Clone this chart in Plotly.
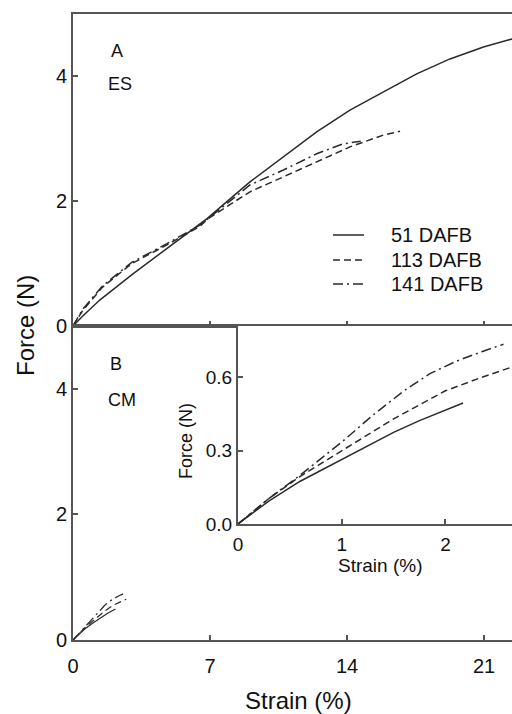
import plotly.graph_objects as go

# ---------------- data ----------------
# Panel A (ES): strain (%) vs force (N)
es51_strain = [0, 0.5, 1.38, 3.08, 4.79, 6.49, 6.85, 9.04, 10.75, 12.45, 14.15, 15.86, 17.56, 19.26, 20.97, 22.33, 22.6]
es51_force = [0, 0.16, 0.42, 0.84, 1.24, 1.64, 1.72, 2.31, 2.71, 3.11, 3.46, 3.75, 4.04, 4.28, 4.47, 4.59, 4.61]

es113_strain = [0, 0.5, 1.5, 3.0, 4.8, 6.5, 6.9, 9.04, 10.75, 12.45, 14.15, 15.86, 16.71]
es113_force = [0, 0.25, 0.62, 1.0, 1.30, 1.60, 1.72, 2.15, 2.39, 2.63, 2.87, 3.06, 3.12]

es141_strain = [0, 0.5, 1.5, 3.0, 4.8, 6.5, 6.9, 9.04, 10.75, 12.45, 13.81, 14.7]
es141_force = [0, 0.27, 0.64, 1.02, 1.32, 1.62, 1.72, 2.26, 2.50, 2.76, 2.92, 2.96]

# Panel B (CM) and inset
cm51_strain = [0, 0.3, 0.6, 1.0, 1.25, 1.5, 1.75, 2.0, 2.17]
cm51_force = [0, 0.095, 0.175, 0.265, 0.322, 0.375, 0.423, 0.465, 0.495]

cm113_strain = [0, 0.3, 0.6, 1.0, 1.5, 2.0, 2.35, 2.64, 2.72]
cm113_force = [0, 0.105, 0.195, 0.298, 0.43, 0.545, 0.60, 0.642, 0.65]

cm141_strain = [0, 0.3, 0.6, 1.0, 1.3, 1.6, 1.85, 2.1, 2.35, 2.56]
cm141_force = [0, 0.105, 0.20, 0.335, 0.445, 0.545, 0.615, 0.665, 0.705, 0.735]

series_names = ["51 DAFB", "113 DAFB", "141 DAFB"]

main_xticks = [0, 7, 14, 21]
main_yticks = [0, 2, 4]
inset_xticks = [0, 1, 2]
inset_yticks = [0.0, 0.3, 0.6]

# ---------------- styling ----------------
FONT = "Liberation Sans, Arial, sans-serif"
LINE_C = "#2a2a2a"
AX_C = "#555555"
TXT_C = "#111111"
dashes = ["solid", "7px,4px", "10px,4px,2px,4px"]
NBSP = "\u00a0"

fig = go.Figure()

es = [(es51_strain, es51_force), (es113_strain, es113_force), (es141_strain, es141_force)]
cm = [(cm51_strain, cm51_force), (cm113_strain, cm113_force), (cm141_strain, cm141_force)]

for i, (x, y) in enumerate(es):
    fig.add_trace(go.Scatter(x=x, y=y, mode="lines", xaxis="x", yaxis="y",
                             name=series_names[i], showlegend=False,
                             line=dict(color=LINE_C, width=1.5, dash=dashes[i])))
for i, (x, y) in enumerate(cm):
    fig.add_trace(go.Scatter(x=x, y=y, mode="lines", xaxis="x2", yaxis="y2",
                             name=series_names[i], showlegend=False,
                             line=dict(color=LINE_C, width=1.2, dash=dashes[i])))
for i, (x, y) in enumerate(cm):
    fig.add_trace(go.Scatter(x=x, y=y, mode="lines", xaxis="x3", yaxis="y3",
                             name=series_names[i], showlegend=False,
                             line=dict(color=LINE_C, width=1.5, dash=dashes[i])))

split = 314 / 626

def axis(size=20, **kw):
    d = dict(showline=True, linecolor=AX_C, linewidth=2, ticks="inside",
             ticklen=5, tickwidth=1.5, tickcolor=AX_C, showgrid=False,
             zeroline=False, automargin=False,
             tickfont=dict(family=FONT, size=size, color=TXT_C))
    d.update(kw)
    return d

fig.update_layout(
    width=512, height=714,
    margin=dict(l=73, r=0, t=14, b=74),
    paper_bgcolor="white", plot_bgcolor="white",
    font=dict(family=FONT, color=TXT_C),
    showlegend=False,
    xaxis=axis(domain=[0, 1], range=[0, 22.43], anchor="y", tickvals=main_xticks[1:],
               showticklabels=False, mirror=True),
    yaxis=axis(domain=[split, 1], range=[0, 5], anchor="x", tickvals=main_yticks,
               ticksuffix=NBSP),
    xaxis2=axis(domain=[0, 1], range=[0, 22.43], anchor="y2", tickvals=main_xticks,
                mirror=True, ticklabelstandoff=7),
    yaxis2=axis(domain=[0, split], range=[0, 5], anchor="x2", tickvals=main_yticks,
                ticksuffix=NBSP),
    xaxis3=axis(size=19, domain=[(238 - 73) / 439, 1], range=[0, 2.642], anchor="y3",
                tickvals=inset_xticks, ticklabelstandoff=2),
    yaxis3=axis(size=19, domain=[(640 - 524) / 626, split], range=[0, 0.81], anchor="x3",
                tickvals=inset_yticks, tickformat=".1f", ticksuffix=NBSP),
)

def ann(text, x, y, size, angle=0, xanchor="center"):
    fig.add_annotation(text=text, x=x, y=y, xref="paper", yref="paper",
                       showarrow=False, textangle=angle,
                       font=dict(family=FONT, size=size, color=TXT_C),
                       xanchor=xanchor, yanchor="middle")

def px_x(p):
    return (p - 73) / 439

def px_y(p):
    return (640 - p) / 626

# manual legend (line samples + labels)
legend_rows = [235, 260, 284]
for i, name in enumerate(series_names):
    yy = px_y(legend_rows[i])
    fig.add_shape(type="line", xref="paper", yref="paper",
                  x0=px_x(333), x1=px_x(364), y0=yy, y1=yy,
                  line=dict(color=LINE_C, width=1.5, dash=dashes[i]))
    ann(name, px_x(389), yy, 20, xanchor="left")

ann("A", px_x(117), px_y(51), 18)
ann("ES", px_x(120), px_y(84), 18)
ann("B", px_x(116), px_y(364), 18)
ann("CM", px_x(122), px_y(400), 18)
ann("Force (N)", px_x(25), px_y(326), 24, -90)
ann("Strain (%)", px_x(298), px_y(700), 24)
ann("Force (N)", px_x(186), px_y(441), 18, -90)
ann("Strain (%)", px_x(380), px_y(565), 19)

fig.write_html("out.html", config={"displayModeBar": False},
               post_script="document.body.style.margin='0';document.body.style.padding='0';")
